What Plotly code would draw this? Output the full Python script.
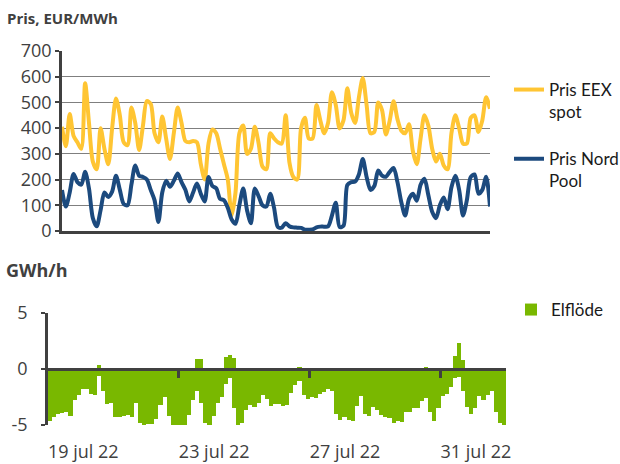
import plotly.graph_objects as go
import pandas as pd

# ---------------- data ----------------
start = pd.Timestamp("2022-07-19 00:00")
t3 = pd.date_range(start, periods=112, freq="3h")          # 3-hourly time stamps
bar_x = t3 + pd.Timedelta(hours=1.5)                        # bar centres

eex_spot = [
    405, 330, 455, 370, 345, 320, 575, 420, 270, 240,
    400, 320, 260, 400, 515, 450, 345, 334, 480, 420,
    315, 410, 505, 495, 380, 345, 445, 360, 280, 380,
    480, 420, 350, 345, 350, 345, 260, 200, 340, 395,
    380, 320, 260, 200, 60, 150, 380, 410, 300, 320,
    405, 340, 250, 240, 380, 360, 345, 340, 450, 265,
    210, 200, 400, 440, 360, 360, 490, 430, 380, 420,
    540, 490, 399, 430, 555, 460, 420, 520, 595, 490,
    380, 385, 500, 470, 375, 430, 505, 435, 390, 380,
    415, 310, 260, 360, 450, 410, 320, 270, 300, 255,
    240, 380, 450, 400, 340, 340, 440, 450, 385, 430,
    520, 475,
]

nord_pool = [
    159, 95, 150, 222, 190, 180, 230, 165, 50, 18,
    80, 150, 132, 153, 215, 160, 105, 100, 180, 255,
    215, 210, 200, 160, 120, 35, 150, 195, 172, 195,
    224, 190, 160, 115, 150, 185, 145, 115, 210, 175,
    166, 125, 120, 90, 45, 28, 100, 165, 80, 30,
    165, 135, 100, 95, 145, 90, 15, 13, 30, 18,
    14, 13, 12, 5, 5, 6, 14, 17, 17, 18,
    60, 110, 15, 20, 179, 190, 192, 220, 280, 210,
    160, 175, 235, 215, 211, 230, 245, 190, 112, 60,
    125, 145, 118, 180, 203, 140, 75, 50, 100, 130,
    85, 170, 215, 160, 60, 120, 210, 220, 145, 160,
    211, 95,
]

elflode_neg = [
    -4.6, -4.3, -4.0, -3.9, -3.8, -4.2, -2.8, -2.35, -1.75, -1.75,
    -2.2, -2.3, -0.6, -2.0, -3.1, -3.0, -4.25, -4.3, -4.2, -4.1,
    -4.3, -3.0, -4.8, -5.0, -4.95, -4.9, -4.5, -3.2, -2.5, -4.2,
    -5.2, -5.2, -5.2, -5.0, -4.1, -2.8, -2.0, -3.0, -4.8, -5.2,
    -4.2, -3.0, -2.5, -1.3, -0.8, -3.5, -5.1, -4.8, -3.7, -3.2,
    -3.4, -3.0, -2.3, -2.7, -3.3, -3.1, -3.1, -3.3, -3.2, -2.1,
    -1.45, -1.1, -2.3, -2.7, -2.5, -2.6, -2.25, -2.05, -1.75, -2.0,
    -4.0, -4.55, -4.3, -4.55, -4.6, -3.3, -2.4, -4.0, -4.2, -3.4,
    -3.7, -4.1, -4.25, -4.4, -4.85, -4.6, -4.7, -3.8, -3.8, -3.5,
    -3.5, -2.9, -2.6, -3.8, -4.6, -3.5, -2.4, -2.2, -1.6, -0.8,
    -0.7, -2.0, -3.4, -4.0, -3.5, -2.4, -2.75, -2.35, -2.0, -3.8,
    -4.85, -5.05,
]

elflode_pos = [
    0, 0, 0, 0, 0, 0, 0, 0, 0, 0,
    0, 0, 0.35, 0, 0, 0, 0, 0, 0, 0,
    0, 0, 0, 0, 0, 0, 0, 0, 0, 0,
    0, 0, 0, 0, 0, 0, 0.9, 0.9, 0, 0,
    0, 0, 0, 1.1, 1.25, 1.0, 0, 0, 0, 0,
    0, 0, 0, 0, 0, 0, 0, 0, 0, 0,
    0, 0.2, 0, 0, 0, 0, 0, 0, 0, 0,
    0, 0, 0, 0, 0, 0, 0, 0, 0, 0,
    0, 0, 0, 0, 0, 0, 0, 0, 0, 0,
    0, 0, 0.2, 0, 0, 0, 0, 0, 0, 1.2,
    2.3, 0.8, 0, 0, 0, 0, 0, 0, 0, 0,
    0, 0,
]

tick_dates = ["2022-07-19", "2022-07-23", "2022-07-27", "2022-07-31"]
tick_text = ["19 jul 22", "23 jul 22", "27 jul 22", "31 jul 22"]
y_top_ticks = [0, 100, 200, 300, 400, 500, 600, 700]
y_bot_ticks = [-5, 0, 5]
y_bot_text = ["-5", "0", "5"]

# ---------------- style ----------------
YELLOW = "#FFC533"
BLUE = "#1C4A7E"
GREEN = "#79B800"
DARK = "#404040"
FONT = "Open Sans"
LEG_FONT = "Lato"

W, H = 620, 464
def px(x): return x / W
def py(y): return 1 - y / H

fig = go.Figure()

fig.add_trace(go.Scatter(x=t3, y=eex_spot, name="Pris EEX<br>spot", mode="lines",
                         line=dict(color=YELLOW, width=4, shape="spline", smoothing=0.8),
                         legendgroup="a", legend="legend", xaxis="x", yaxis="y"))
fig.add_trace(go.Scatter(x=t3, y=nord_pool, name="Pris Nord<br>Pool", mode="lines",
                         line=dict(color=BLUE, width=4, shape="spline", smoothing=0.8),
                         legendgroup="b", legend="legend", xaxis="x", yaxis="y"))

fig.add_trace(go.Bar(x=bar_x, y=elflode_neg, name="Elflöde", marker=dict(color=GREEN, line=dict(width=0)),
                     width=3 * 3600 * 1000, legend="legend2", xaxis="x2", yaxis="y2"))
fig.add_trace(go.Bar(x=bar_x, y=elflode_pos, name="Elflöde", marker=dict(color=GREEN, line=dict(width=0)),
                     width=3 * 3600 * 1000, showlegend=False, xaxis="x3", yaxis="y2"))

x_range_bot = [start, start + pd.Timedelta(days=14)]
y2_dom = [py(425), py(313)]

fig.update_layout(
    width=W, height=H,
    margin=dict(l=0, r=0, t=0, b=0, autoexpand=False),
    paper_bgcolor="white", plot_bgcolor="white",
    font=dict(family=FONT, color=DARK, size=18),
    barmode="relative", bargap=0,
    xaxis=dict(domain=[px(62), px(490)], anchor="y", type="date",
               range=[t3[0], t3[-1]], showticklabels=False, showgrid=False,
               zeroline=False, showline=True, linecolor=DARK, linewidth=3, ticks=""),
    yaxis=dict(domain=[py(231), py(51)], anchor="x", range=[0, 700], tickvals=y_top_ticks,
               showgrid=True, gridcolor="#7f7f7f", gridwidth=1.2, zeroline=False,
               showline=True, linecolor=DARK, linewidth=2.5, ticks="outside", ticklen=4,
               tickwidth=2, tickcolor=DARK, tickfont=dict(size=18, color=DARK)),
    xaxis2=dict(domain=[px(48), px(506)], anchor="y2", type="date", range=x_range_bot,
                tickvals=tick_dates, ticktext=tick_text, ticks="", showgrid=False,
                zeroline=False, showline=False, ticklabelposition="outside right",
                ticklabelstandoff=14, tickfont=dict(size=18, color=DARK)),
    xaxis3=dict(overlaying="x2", anchor="free", position=(y2_dom[0] + y2_dom[1]) / 2,
                type="date", range=x_range_bot, tickvals=tick_dates[1:], showticklabels=False,
                ticks="outside", ticklen=7, tickwidth=2.5, tickcolor=DARK, showgrid=False,
                zeroline=False, showline=True, linecolor=DARK, linewidth=3),
    yaxis2=dict(domain=y2_dom, anchor="x2", range=[-5, 5], tickvals=y_bot_ticks, ticktext=y_bot_text,
                showgrid=True, gridcolor="#c0c0c0", gridwidth=1.5, zeroline=False,
                showline=True, linecolor=DARK, linewidth=2.5, ticks="outside", ticklen=4,
                tickwidth=2, tickcolor=DARK, ticklabelstandoff=10,
                tickfont=dict(size=18, color=DARK)),
    legend=dict(x=px(509), y=py(72), xanchor="left", yanchor="top", valign="top",
                traceorder="grouped", tracegroupgap=22, bgcolor="rgba(0,0,0,0)",
                font=dict(family=LEG_FONT, size=17, color="#1a1a1a")),
    legend2=dict(x=px(511), y=py(292), xanchor="left", yanchor="top",
                 bgcolor="rgba(0,0,0,0)", font=dict(family=LEG_FONT, size=17, color="#1a1a1a")),
    annotations=[
        dict(text="<b>Pris, EUR/MWh</b>", x=px(5), y=py(18), xref="paper", yref="paper",
             xanchor="left", yanchor="middle", showarrow=False, font=dict(size=15, color=DARK)),
        dict(text="<b>GWh/h</b>", x=px(4), y=py(270), xref="paper", yref="paper",
             xanchor="left", yanchor="middle", showarrow=False, font=dict(size=18, color=DARK)),
    ],
)

fig.write_html("out.html", config={"displayModeBar": False},
               post_script="document.body.style.margin='0';")
